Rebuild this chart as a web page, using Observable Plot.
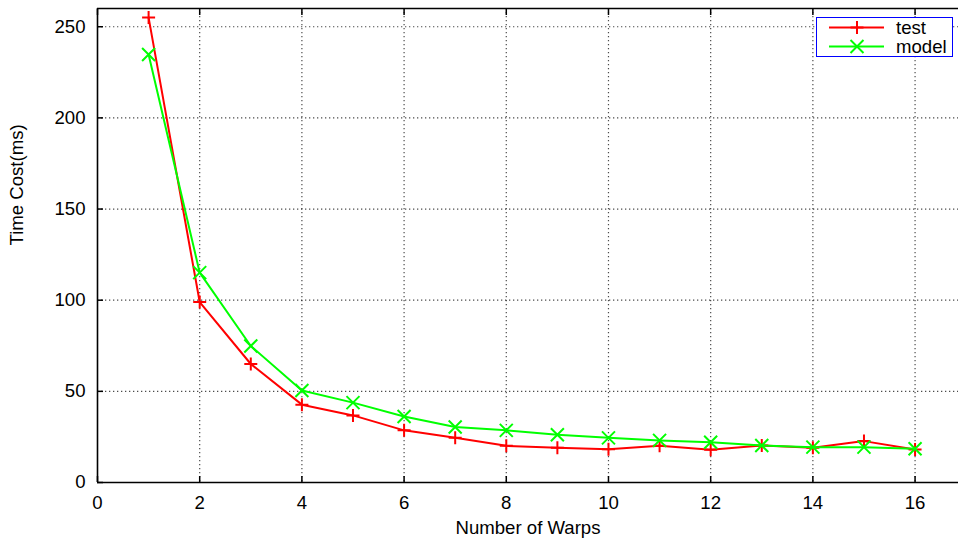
<!DOCTYPE html>
<html>
<head>
<meta charset="utf-8">
<script src="https://cdn.jsdelivr.net/npm/d3@7"></script>
<script src="https://cdn.jsdelivr.net/npm/@observablehq/plot@0.6"></script>
<style>
  html, body { margin: 0; padding: 0; background: #fff; }
  #wrap { position: relative; width: 958px; height: 542px; font-family: "Liberation Sans", Arial, sans-serif; }
  #legend { position: absolute; left: 816px; top: 17px; width: 135px; height: 38px; border: 1px solid #0000ff; background: #fff; box-sizing: content-box; }
  #legend .row { position: absolute; left: 0; height: 19px; display: flex; align-items: center; }
  #legend .lab { font-size: 18.6px; color: #000; margin-left: 12px; line-height: 19px; }
</style>
</head>
<body>
<div id="wrap"></div>
<script>
const warps = [1, 2, 3, 4, 5, 6, 7, 8, 9, 10, 11, 12, 13, 14, 15, 16];
const testValues = [255, 99, 65, 42.7, 36.8, 28.6, 24.5, 20.1, 19.0, 18.3, 20.1, 18.0, 20.3, 19.0, 22.7, 18.1];
const modelValues = [234.8, 115.1, 74.9, 50.5, 43.8, 36.2, 30.4, 28.6, 26.2, 24.5, 23.1, 22.1, 20.3, 19.4, 19.4, 18.5];
const seriesNames = ["test", "model"];
const seriesColors = ["#ff0000", "#00ff00"];
const xTicks = [0, 2, 4, 6, 8, 10, 12, 14, 16];
const yTicks = [0, 50, 100, 150, 200, 250];
const xLabel = "Number of Warps";
const yLabel = "Time Cost(ms)";

const testData = warps.map((w, i) => ({x: w, y: testValues[i]}));
const modelData = warps.map((w, i) => ({x: w, y: modelValues[i]}));

const plusSym = {draw(ctx) { const r = 6.5; ctx.moveTo(-r, 0); ctx.lineTo(r, 0); ctx.moveTo(0, -r); ctx.lineTo(0, r); }};
const timesSym = {draw(ctx) { const r = 6.5; ctx.moveTo(-r, -r); ctx.lineTo(r, r); ctx.moveTo(-r, r); ctx.lineTo(r, -r); }};

const grid = {stroke: "#000", strokeOpacity: 0.7, strokeDasharray: "1.3,2.7", strokeWidth: 1.2};
const FS = 18.6;

const chart = Plot.plot({
  width: 958,
  height: 542,
  marginLeft: 97,
  marginRight: 0,
  marginTop: 8,
  marginBottom: 60,
  style: {fontFamily: "'Liberation Sans', Arial, sans-serif", fontSize: FS + "px", color: "#000", background: "#fff"},
  x: {domain: [0, 16.85]},
  y: {domain: [0, 260]},
  marks: [
    Plot.gridX(xTicks.filter(d => d > 0), grid),
    Plot.gridY(yTicks.filter(d => d > 0), grid),
    Plot.ruleX([0], {stroke: "#000", strokeWidth: 1.6}),
    Plot.ruleY([0, 260], {stroke: "#000", strokeWidth: 1.6}),
    Plot.axisX(xTicks, {anchor: "bottom", tickSize: -6, tickPadding: 19, label: null, strokeWidth: 1.5, fontSize: FS}),
    Plot.axisX(xTicks, {anchor: "top", tickSize: -6, tickFormat: () => "", label: null, strokeWidth: 1.5}),
    Plot.axisY(yTicks, {anchor: "left", tickSize: -6, tickPadding: 18, label: null, strokeWidth: 1.5, fontSize: FS}),
    Plot.line(testData, {x: "x", y: "y", stroke: seriesColors[0], strokeWidth: 2}),
    Plot.dot(testData, {x: "x", y: "y", symbol: plusSym, stroke: seriesColors[0], fill: "none", strokeWidth: 2}),
    Plot.line(modelData, {x: "x", y: "y", stroke: seriesColors[1], strokeWidth: 2}),
    Plot.dot(modelData, {x: "x", y: "y", symbol: timesSym, stroke: seriesColors[1], fill: "none", strokeWidth: 2}),
    Plot.text([yLabel], {frameAnchor: "left", dx: -80, rotate: -90, fontSize: FS, fill: "#000"}),
    Plot.text([xLabel], {frameAnchor: "bottom", dy: 51, fontSize: FS, fill: "#000"})
  ]
});

const wrap = document.getElementById("wrap");
wrap.appendChild(chart);

const legend = document.createElement("div");
legend.id = "legend";
const markPaths = [
  "M28,9.5 L28,22.5 M21.5,16 L34.5,16",
  "M21.5,9.5 L34.5,22.5 M21.5,22.5 L34.5,9.5"
];
seriesNames.forEach((name, i) => {
  const row = document.createElement("div");
  row.className = "row";
  row.style.top = (i * 19) + "px";
  row.innerHTML = `<svg width="67" height="19" viewBox="0 6.5 67 19" style="overflow:visible">
      <line x1="12" y1="16" x2="67" y2="16" stroke="${seriesColors[i]}" stroke-width="2"/>
      <path d="${markPaths[i]}" transform="translate(12,0)" stroke="${seriesColors[i]}" stroke-width="2" fill="none"/>
    </svg><span class="lab">${name}</span>`;
  legend.appendChild(row);
});
wrap.appendChild(legend);
</script>
</body>
</html>
